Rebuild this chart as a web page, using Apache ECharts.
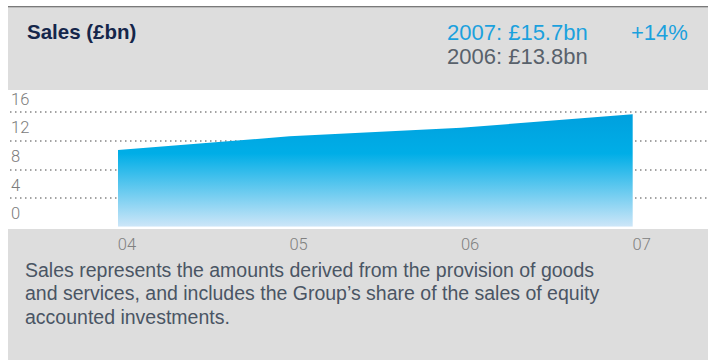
<!DOCTYPE html>
<html>
<head>
<meta charset="utf-8">
<script src="https://cdn.jsdelivr.net/npm/echarts@6/dist/echarts.min.js"></script>
<style>
  html, body { margin: 0; padding: 0; background: #fff; }
  #chart { width: 708px; height: 360px; }
</style>
</head>
<body>
<div id="chart"></div>
<script>
// chart data
const years = ['04', '05', '06', '07']
const sales = [10.7, 12.6, 13.8, 15.7]
const yTicks = [0, 4, 8, 12, 16]

const narrow = '"Liberation Sans Narrow", "Arial Narrow", "Liberation Sans", sans-serif'
const light = 'Roboto, "Liberation Sans", sans-serif'

const chart = echarts.init(document.getElementById('chart'), null, { renderer: 'svg' })

const option = {
  animation: false,
  graphic: [
    { type: 'rect', z: -10, silent: true, shape: { x: 8, y: 6, width: 700, height: 1.5 }, style: { fill: '#7a7a7a' } },
    { type: 'rect', z: -10, silent: true, shape: { x: 8, y: 8, width: 700, height: 82 }, style: { fill: '#dddddd' } },
    { type: 'rect', z: -10, silent: true, shape: { x: 8, y: 229, width: 700, height: 131 }, style: { fill: '#dddddd' } },
  ],
  title: [
    {
      text: 'Sales (£bn)', left: 27, top: 21, padding: 0,
      textStyle: { fontFamily: narrow, fontSize: 20.5, fontWeight: 'bold', color: '#15264a' },
    },
    {
      text: '2007: £15.7bn', left: 447, top: 21, padding: 0,
      textStyle: { fontFamily: narrow, fontSize: 22, fontWeight: 'normal', color: '#1ba1dd' },
    },
    {
      text: '+14%', left: 631, top: 21, padding: 0,
      textStyle: { fontFamily: narrow, fontSize: 22, fontWeight: 'normal', color: '#1ba1dd' },
    },
    {
      text: '2006: £13.8bn', left: 447, top: 45.5, padding: 0,
      textStyle: { fontFamily: narrow, fontSize: 22, fontWeight: 'normal', color: '#58616b' },
    },
    {
      text: 'Sales represents the amounts derived from the provision of goods\nand services, and includes the Group\u2019s share of the sales of equity\naccounted investments.',
      left: 25, top: 258, padding: 0,
      textStyle: { fontFamily: narrow, fontSize: 19.5, fontWeight: 'normal', color: '#4a5564', lineHeight: 23.5 },
    },
  ],
  grid: { left: 10, right: 0, top: 112, bottom: 133.3 },
  xAxis: {
    type: 'value',
    min: -0.6295,
    max: 3.439,
    axisLine: { show: false },
    axisTick: { show: false },
    splitLine: { show: false },
    axisLabel: {
      customValues: [0, 1, 2, 3],
      formatter: (v) => years[Math.round(v)],
      margin: 9,
      padding: [0, 0, 0, 18],
      color: '#808080',
      fontSize: 16.5,
      fontFamily: light,
      fontWeight: 300,
    },
  },
  yAxis: {
    type: 'value',
    min: yTicks[0],
    max: yTicks[yTicks.length - 1],
    interval: 4,
    axisLine: { show: false },
    axisTick: { show: false },
    axisLabel: {
      align: 'left',
      verticalAlign: 'bottom',
      lineHeight: 26,
      margin: -1,
      color: '#7b7b7b',
      fontSize: 16.5,
      fontFamily: light,
      fontWeight: 300,
    },
    splitLine: {
      showMinLine: false,
      lineStyle: { color: '#a3a3a3', width: 2, type: [1.5, 3.5] },
    },
  },
  series: [
    {
      type: 'line',
      data: sales.map((v, i) => [i, v]),
      showSymbol: false,
      lineStyle: { width: 0 },
      areaStyle: {
        opacity: 1,
        color: new echarts.graphic.LinearGradient(0, 0, 0, 1, [
          { offset: 0, color: '#00a0de' },
          { offset: 0.35, color: '#00aee7' },
          { offset: 1, color: '#cde6f8' },
        ]),
      },
    },
  ],
}

chart.setOption(option)
</script>
</body>
</html>
